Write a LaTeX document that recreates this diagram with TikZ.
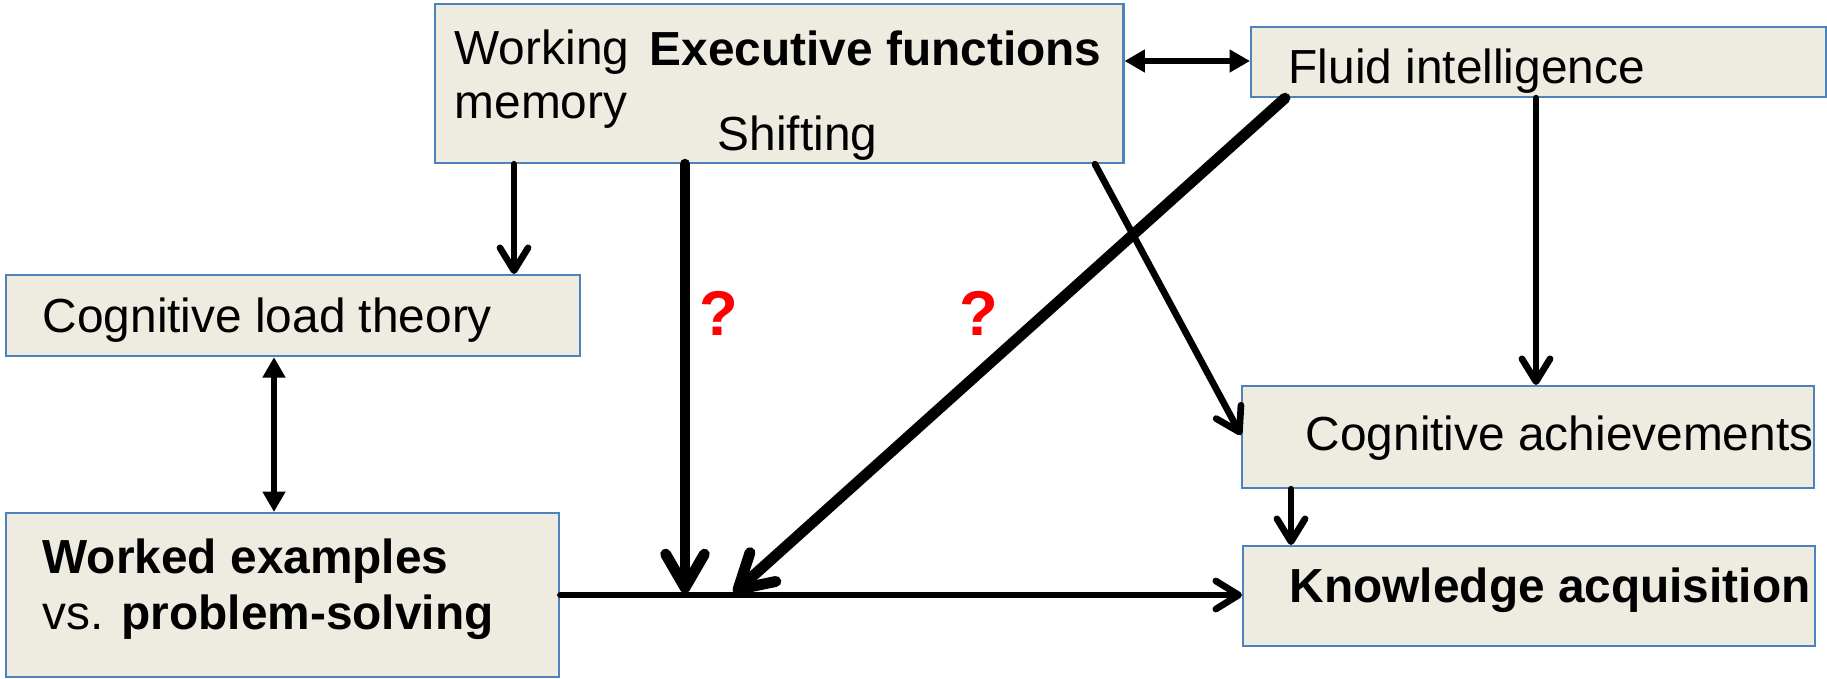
\documentclass[tikz,border=0pt]{standalone}
\usepackage{fontspec}
\setmainfont{Liberation Sans}
\usetikzlibrary{arrows.meta}
\definecolor{boxfill}{HTML}{EEECE1}
\definecolor{boxline}{HTML}{4F81BD}
\definecolor{qred}{HTML}{FF0000}
\tikzset{
  box/.style={draw=boxline, fill=boxfill, line width=0.6pt, inner sep=0pt, anchor=north west},
  lbl/.style={inner sep=0pt, anchor=base west, font=\fontsize{13.6pt}{15pt}\selectfont},
  qmark/.style={inner sep=0pt, text=qred, font=\fontsize{18pt}{20pt}\selectfont\bfseries},
  barb/.style={line width=1.9pt, line cap=round, -{Straight Barb[length=6.5pt, width=8pt, round]}},
  heavybarb/.style={line width=3.1pt, line cap=round, -{Straight Barb[length=9.5pt, width=11pt, round]}},
  twoway/.style={line width=1.9pt, {Triangle[length=5.8pt, width=6.2pt]}-{Triangle[length=5.8pt, width=6.2pt]}}
}
\begin{document}
\begin{tikzpicture}[x=0.01cm, y=-0.01cm]
\useasboundingbox (0,0) rectangle (1827,678);

% boxes
\node[box, minimum width=6.88cm, minimum height=1.59cm] (ef) at (434,3) {};
\node[box, minimum width=5.75cm, minimum height=0.70cm] (fi) at (1250,26) {};
\node[box, minimum width=5.74cm, minimum height=0.81cm] (clt) at (5,274) {};
\node[box, minimum width=5.53cm, minimum height=1.64cm] (we) at (5,512) {};
\node[box, minimum width=5.72cm, minimum height=1.02cm] (ca) at (1241,385) {};
\node[box, minimum width=5.72cm, minimum height=1.00cm] (ka) at (1242,545) {};

% labels
\node[lbl] (wm1) at (454,64) {Working};
\node[lbl] (wm2) at (454,118) {memory};
\node[lbl] (eft) at (649,65) {\bfseries Executive functions};
\node[lbl] (sh) at (717,150) {Shifting};
\node[lbl] (fit) at (1288,83) {Fluid intelligence};
\node[lbl] (cltt) at (42,332) {Cognitive load theory};
\node[lbl] (cat) at (1305,450) {Cognitive achievements};
\node[lbl] (kat) at (1289,602) {\bfseries Knowledge acquisition};
\node[lbl] (we1) at (42,573) {\bfseries Worked examples};
\node[lbl] (we2) at (42,629) {vs. \bfseries problem-solving};

% question marks
\node[qmark] (q1) at (719,313) {?};
\node[qmark] (q2) at (979,313) {?};

% junction points on the main path
\coordinate (j1) at (685,593);
\coordinate (j2) at (734,593);

% connectors
\draw[twoway] (ef.east |- 0,61) -- (fi.west |- 0,61);
\draw[barb] (ef.south -| 514,0) -- (clt.north -| 514,0);
\draw[twoway] (clt.south -| 274,0) -- (we.north -| 274,0);
\draw[barb] (we.east |- 0,595) -- (ka.west |- 0,595);
\draw[heavybarb] (ef.south -| 685,0) -- (j1);
\draw[heavybarb] (fi.south -| 1285,0) -- (j2);
\draw[barb] (ef.south -| 1095,0) -- (ca.west |- 0,435);
\draw[barb] (fi.south -| 1536,0) -- (ca.north -| 1536,0);
\draw[barb] (ca.south -| 1291,0) -- (ka.north -| 1291,0);
\end{tikzpicture}
\end{document}
